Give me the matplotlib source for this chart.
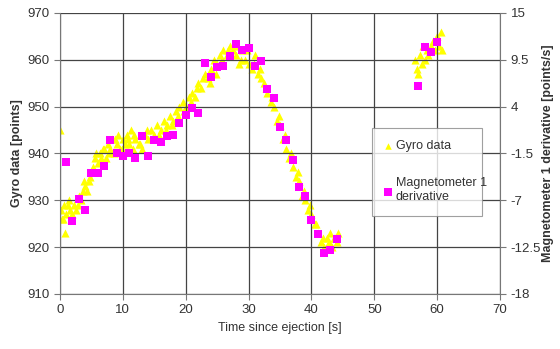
import matplotlib
matplotlib.use('Agg')
from matplotlib import pyplot as plt

plt.rcParams['font.family'] = ['Liberation Sans', 'DejaVu Sans']

# gyro data (left axis)
gyro_t = [0.0, 0.2, 0.4, 0.6, 0.8, 1.0, 1.3, 1.6, 2.0, 2.3, 2.6, 3.0, 3.3, 3.6, 4.0, 4.3, 4.6,
          5.0, 5.3, 5.6, 6.0, 6.3, 6.6, 7.0, 7.3, 7.6, 8.0, 8.3, 8.6, 9.0, 9.3, 9.6,
          10.0, 10.3, 10.6, 11.0, 11.3, 11.6, 12.0, 12.5, 13.0, 13.5, 14.0, 14.5, 15.0, 15.5,
          16.0, 16.5, 17.0, 17.5, 18.0, 18.5, 19.0, 19.5, 20.0, 20.5, 21.0, 21.5, 22.0, 22.5,
          23.0, 23.5, 24.0, 24.5, 25.0, 25.5, 26.0, 26.5, 27.0, 27.5, 28.0, 28.5, 29.0, 29.5,
          30.0, 30.5, 31.0, 31.5, 32.0, 32.5, 33.0, 33.5, 34.0, 34.5, 35.0, 35.5, 36.0, 36.5,
          37.0, 37.5, 38.0, 38.5, 39.0, 39.5, 40.0, 40.5, 41.0, 41.5, 42.0, 42.5, 43.0, 43.3,
          43.6, 44.0, 44.3,
          56.5, 56.8, 57.0, 57.3, 57.6, 58.0, 58.3, 58.6, 59.0, 59.3, 59.6, 60.0, 60.3, 60.6, 60.8,
          # second pass of samples
          0.5, 1.5, 2.8, 3.8, 4.8, 5.8, 6.8, 7.8, 8.8, 9.8, 10.8, 11.8, 12.8, 13.8, 14.8,
          15.8, 16.8, 17.8, 18.8, 19.8, 20.8, 21.8, 22.8, 23.8, 24.8, 25.8, 26.8, 27.8,
          28.8, 29.8, 30.8, 31.8, 32.8, 33.8, 34.8, 35.8, 36.8, 37.8, 38.8, 39.8, 40.8,
          41.8, 42.8, 43.8, 57.8, 59.8]
gyro_val = [945, 928, 926, 929, 923, 927, 929, 928, 927, 929, 928, 931, 930, 932, 933, 932, 934,
            936, 937, 939, 938, 940, 939, 941, 939, 942, 941, 943, 940, 942, 944, 941,
            943, 942, 944, 942, 945, 941, 943, 942, 941, 944, 943, 945, 944, 946,
            945, 947, 946, 948, 947, 949, 950, 951, 950, 952, 953, 952, 955, 954,
            957, 956, 958, 960, 959, 961, 962, 961, 963, 962, 961, 959, 962, 960,
            959, 958, 961, 957, 956, 955, 953, 951, 950, 947, 946, 943, 941, 939,
            937, 935, 934, 931, 930, 928, 927, 925, 923, 921, 920, 922, 923, 920,
            922, 921, 923,
            960, 958, 957, 961, 959, 960, 962, 961, 963, 964, 962, 965, 963, 966, 962,
            926, 930, 929, 934, 935, 940, 941, 940, 943, 941, 943, 944, 942, 945, 943,
            944, 945, 946, 948, 949, 951, 954, 956, 955, 957, 960, 962, 963,
            960, 962, 959, 958, 954, 952, 948, 944, 940, 936, 932, 929, 925,
            922, 921, 922, 963, 964]

# magnetometer 1 derivative (right axis)
mag_t = list(range(1, 45)) + [57, 58, 59, 60]
mag_val = [-2.5, -9.4, -6.8, -8.2, -3.8, -3.8, -3.0, 0.1, -1.4, -1.8, -1.4, -2.05, 0.5, -1.8,
           0.1, -0.2, 0.5, 0.7, 2.1, 3.0, 3.8, 3.3, 9.1, 7.5, 8.6, 8.8, 9.9, 11.3, 10.7, 10.9,
           8.8, 9.3, 6.1, 5.0, 1.6, 0.1, -2.3, -5.5, -6.45, -9.3, -11.0, -13.2, -12.9, -11.6,
           6.4, 11.0, 10.4, 11.6]

text_col = '#333333'

fig = plt.figure(figsize=(5.6, 3.49), dpi=100)
ax = fig.add_axes([0.107, 0.158, 0.786, 0.805])
ax2 = ax.twinx()

g = ax.scatter(gyro_t, gyro_val, marker='^', s=34, color='#FFFF00', linewidths=0, label='Gyro data')
m = ax2.scatter(mag_t, mag_val, marker='s', s=40, color='#FF00FF', linewidths=0,
                label='Magnetometer 1\nderivative')

ax.set_xlim(0, 70)
ax.set_ylim(910, 970)
ax2.set_ylim(-18, 15)
ax.set_xticks(range(0, 71, 10))
ax.set_yticks(range(910, 971, 10))
ax2.set_yticks([-18, -12.5, -7, -1.5, 4, 9.5, 15])
ax2.set_yticklabels(['-18', '-12.5', '-7', '-1.5', '4', '9.5', '15'])

ax.grid(True, color='#444444', linewidth=0.9)
for a in (ax, ax2):
    for s in a.spines.values():
        s.set_visible(False)
    a.tick_params(colors=text_col, labelsize=9.5, length=4, width=0.8)
    a.tick_params(axis='both', color='#777777')
ax.spines['left'].set_visible(True)
ax.spines['left'].set_color('#777777')
ax.spines['bottom'].set_visible(True)
ax.spines['bottom'].set_color('#777777')
ax2.spines['right'].set_visible(True)
ax2.spines['right'].set_color('#777777')

ax.set_xlabel('Time since ejection [s]', color=text_col, fontsize=9)
ax.xaxis.set_label_coords(0.5, -0.1)
ax.set_ylabel('Gyro data [points]', color=text_col, fontsize=9, fontweight='bold')
ax.yaxis.set_label_coords(-0.085, 0.5)
ax2.set_ylabel('Magnetometer 1 derivative [points/s]', color=text_col, fontsize=9, fontweight='bold')
ax2.yaxis.set_label_coords(1.095, 0.5)

leg = ax2.legend(handles=[g, m], loc='lower left', bbox_to_anchor=(0.695, 0.256, 0.277, 0.30),
                 mode='expand', fontsize=9, frameon=True, fancybox=False, labelspacing=2.0,
                 handlelength=0.6, handletextpad=0.3, borderpad=1.0, markerscale=0.8)
leg.get_frame().set_edgecolor('#888888')
leg.get_frame().set_linewidth(0.8)
for t in leg.get_texts():
    t.set_color(text_col)

plt.savefig('out.png', dpi=100)
